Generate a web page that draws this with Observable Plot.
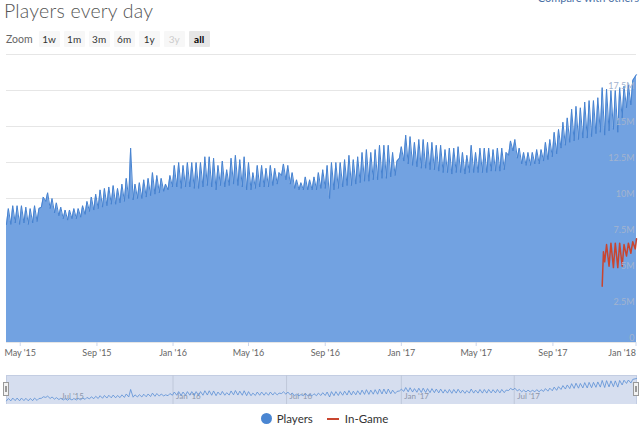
<!DOCTYPE html>
<html><head><meta charset="utf-8">
<script src="https://cdn.jsdelivr.net/npm/d3@7"></script>
<script src="https://cdn.jsdelivr.net/npm/@observablehq/plot@0.6"></script>
<style>
body{margin:0;width:641px;height:427px;overflow:hidden;background:#fff;font-family:Lato,"Open Sans",sans-serif;position:relative}
#title{position:absolute;left:4px;top:-1px;font-size:19.5px;font-weight:300;color:#555;letter-spacing:0.2px}
#compare{position:absolute;right:2px;top:-9px;font-size:11px;color:#4a6fa5}
#zoom{position:absolute;left:6px;top:31px;height:16px;display:flex;align-items:center;font-size:10px;color:#333}
#zoom .lbl{color:#666;margin-right:6px;font-size:10.5px}
#zoom .b{width:21px;height:16px;line-height:16px;text-align:center;background:#f7f7f7;margin-right:4px;border-radius:1px}
#zoom .dis{color:#ccc}
#zoom .sel{background:#e6e6e6;font-weight:bold;color:#000}
#main{position:absolute;left:0;top:44px}
#nav{position:absolute;left:0;top:375px}
.handle{position:absolute;top:382px;width:6px;height:14px;background:#f2f2f2;border:1px solid #999;box-sizing:border-box}
.handle:after{content:"";position:absolute;left:1px;top:3px;width:2px;height:6px;border-left:1px solid #999;border-right:1px solid #999;box-sizing:border-box}
#legend{position:absolute;left:4px;width:641px;top:412px;display:flex;justify-content:center;align-items:center;font-size:11.5px;color:#333}
#legend .dot{width:11px;height:11px;border-radius:50%;background:#4a86d2;margin-right:5px}
#legend .dash{width:12px;height:2px;background:#c9452f;margin:0 6px 0 14px}
</style></head><body>
<div id="title">Players every day</div>
<div id="compare">Compare with others</div>
<div id="zoom"><span class="lbl">Zoom</span><span class="b">1w</span><span class="b">1m</span><span class="b">3m</span><span class="b">6m</span><span class="b">1y</span><span class="b dis">3y</span><span class="b sel">all</span></div>
<div id="main"></div>
<div id="nav"></div>
<div class="handle" style="left:3px"></div>
<div class="handle" style="left:633px"></div>
<div id="legend"><span class="dot"></span><span>Players</span><span class="dash"></span><span>In-Game</span></div>
<script>
// Players: weekly peak (Sunday) and weekly low (previous Thursday), in millions
const firstSunday = "2015-04-12";
const peakValues = [
 9.3,9.5,9.5,9.5,9.4,9.3,9.5,9.3,10.1,10.4,
 10.0,9.7,9.4,9.2,9.2,9.3,9.3,9.5,9.8,10.1,
 10.3,10.6,10.7,10.8,10.9,10.7,11.0,11.4,13.5,11.0,
 11.1,11.3,11.4,11.8,11.6,11.4,11.0,11.6,12.3,12.5,
 12.3,12.5,12.5,12.5,12.5,12.9,12.9,12.8,12.3,12.6,
 12.0,12.8,13.0,12.7,12.9,12.5,11.8,12.3,12.3,12.1,
 12.3,12.1,11.8,12.4,12.3,11.8,11.3,11.1,11.5,11.3,
 11.5,11.8,12.0,12.3,12.5,12.5,12.5,12.7,13.0,12.7,
 12.9,13.2,13.4,13.2,13.4,13.7,13.7,13.7,13.2,12.6,
 13.6,14.4,14.3,13.9,14.1,14.1,13.9,13.9,13.7,13.7,
 13.4,13.5,13.5,13.6,13.2,13.0,13.7,13.2,13.5,13.5,
 13.5,13.4,13.5,13.5,13.2,14.0,14.1,13.5,13.2,13.2,
 13.2,13.4,13.4,13.9,14.1,14.6,14.8,15.3,15.6,16.2,
 16.4,16.3,16.7,16.8,16.8,17.0,17.7,17.6,17.5,17.5,
 17.7,17.8,17.9,18.2
];
const lowValues = [
 8.2,8.2,8.3,8.2,8.3,8.2,8.3,8.4,9.4,9.8,
 9.3,9.0,8.8,8.6,8.5,8.6,8.6,8.7,8.9,9.1,
 9.2,9.3,9.4,9.5,9.6,9.6,9.7,9.8,10.0,9.9,
 10.0,10.0,10.1,10.2,10.3,10.4,10.5,10.6,10.8,10.8,
 10.7,10.8,10.8,10.7,10.7,10.8,10.9,10.8,10.6,10.9,
 10.8,10.9,11.0,10.9,10.8,10.6,10.6,10.7,10.8,10.8,
 10.8,10.9,11.0,11.6,11.3,11.0,10.7,10.6,10.6,10.6,
 10.6,10.6,10.7,10.7,10.0,10.6,10.7,10.8,10.9,10.9,
 11.0,11.1,11.2,11.2,11.3,11.3,11.4,11.4,11.5,11.6,
 12.8,12.6,12.4,12.3,12.2,12.1,12.1,12.0,12.0,11.9,
 11.8,11.8,11.7,11.8,11.8,11.7,11.8,11.8,11.8,11.8,
 11.8,11.9,11.9,11.9,12.0,13.0,13.3,12.8,12.4,12.3,
 12.3,12.4,12.4,12.6,12.7,12.9,13.1,13.5,13.7,13.9,
 14.0,14.1,14.2,14.2,14.3,14.5,14.6,14.4,14.7,14.8,
 14.6,15.6,16.3,16.5
];
const lastDate = "2018-01-13";
const lastValue = 18.6;

// In-Game (millions)
const inGameDates = ["2017-11-19","2017-11-21","2017-11-23","2017-11-26","2017-11-30","2017-12-03","2017-12-07","2017-12-10","2017-12-14","2017-12-17","2017-12-21","2017-12-24","2017-12-28","2017-12-31","2018-01-04","2018-01-07","2018-01-11","2018-01-13"];
const inGameValues = [3.9,6.3,5.6,6.8,5.3,6.9,5.2,6.9,5.2,6.9,5.3,6.8,6.0,6.9,6.2,7.0,6.5,7.2];

const yTicks = [0,2.5,5,7.5,10,12.5,15,17.5,20];
const yTickLabels = ["0","2.5M","5M","7.5M","10M","12.5M","15M","17.5M",""];
const xTicks = ["2015-05-01","2015-09-01","2016-01-01","2016-05-01","2016-09-01","2017-01-01","2017-05-01","2017-09-01","2018-01-01"];
const xTickLabels = ["May '15","Sep '15","Jan '16","May '16","Sep '16","Jan '17","May '17","Sep '17","Jan '18"];
const navTicks = ["2015-07-01","2016-01-01","2016-07-01","2017-01-01","2017-07-01"];
const navTickLabels = ["Jul '15","Jan '16","Jul '16","Jan '17","Jul '17"];

const start = new Date(firstSunday);
const players = [];
peakValues.forEach((p, i) => {
  players.push({date: d3.utcDay.offset(start, 7*i - 3), value: lowValues[i]});
  players.push({date: d3.utcDay.offset(start, 7*i), value: p});
});
players.push({date: new Date(lastDate), value: lastValue});
const inGame = inGameDates.map((d, i) => ({date: new Date(d), value: inGameValues[i]}));

const xDomain = [players[0].date, players[players.length-1].date];
const xTickDates = xTicks.map(d => new Date(d));
const navTickDates = navTicks.map(d => new Date(d));
const fmt = (arr, labels) => d => labels[arr.findIndex(t => +t === +d)];
const innerTicks = xTickDates.slice(0, -1);
const endTick = xTickDates.slice(-1);

const main = Plot.plot({
  width: 641, height: 320,
  marginTop: 10, marginBottom: 22, marginLeft: 6, marginRight: 5,
  style: {fontFamily: "Lato, sans-serif", background: "transparent"},
  x: {type: "utc", domain: xDomain, axis: null},
  y: {domain: [0, 20], axis: null},
  marks: [
    Plot.ruleY(yTicks, {stroke: "#e6e6e6"}),
    Plot.areaY(players, {x: "date", y: "value", fill: "#72a2e1"}),
    Plot.lineY(players, {x: "date", y: "value", stroke: "#4682d0", strokeWidth: 1}),
    Plot.lineY(inGame, {x: "date", y: "value", stroke: "#c9452f", strokeWidth: 1.5}),
    Plot.text(yTicks, {x: () => xDomain[1], y: d => d, text: (d, i) => yTickLabels[i], textAnchor: "end", dx: -2, dy: -4, fill: "#a3b4cf", fontSize: 9}),
    Plot.axisX(innerTicks, {tickFormat: fmt(xTickDates, xTickLabels), tickSize: 4, tickPadding: 3, stroke: "#ccd6eb", fill: "#666", fontSize: 9, label: null}),
    Plot.axisX(endTick, {tickFormat: fmt(xTickDates, xTickLabels), tickSize: 4, tickPadding: 3, stroke: "#ccd6eb", fill: "#666", fontSize: 9, label: null, textAnchor: "end", dx: 7})
  ]
});
document.getElementById("main").append(main);

const nav = Plot.plot({
  width: 641, height: 29,
  marginTop: 0, marginBottom: 0, marginLeft: 6, marginRight: 5,
  style: {fontFamily: "Lato, sans-serif", background: "transparent"},
  x: {type: "utc", domain: xDomain, axis: null},
  y: {domain: [6.5, 20], axis: null},
  marks: [
    Plot.frame({fill: "#d6deef", stroke: "#c3cde2"}),
    Plot.ruleX(navTickDates.slice(1), {stroke: "#bfc8da"}),
    Plot.text(navTickDates, {x: d => d, frameAnchor: "bottom", dy: -6, dx: 3, text: (d, i) => navTickLabels[i], textAnchor: "start", fill: "#8c96aa", fontSize: 8}),
    Plot.lineY(players, {x: "date", y: "value", stroke: "#5b8fd6", strokeWidth: 0.8})
  ]
});
document.getElementById("nav").append(nav);
</script>
</body></html>
